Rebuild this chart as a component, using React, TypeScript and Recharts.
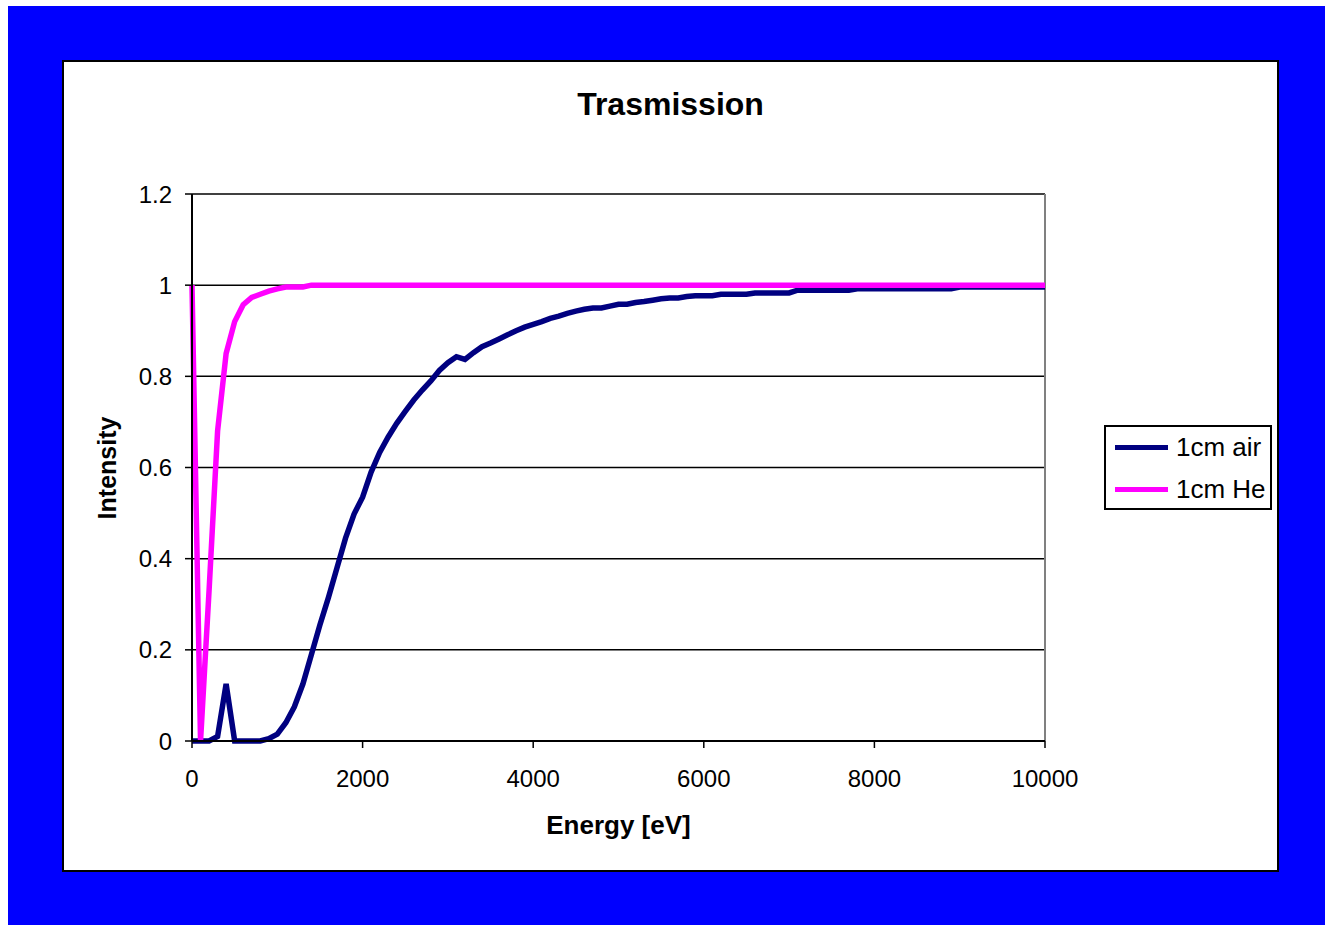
import React from "react"
import { LineChart, Line, XAxis, YAxis, CartesianGrid, ReferenceLine } from "recharts"

// photon energy in eV
const energy = [
    0, 100, 200, 300, 400, 500, 600, 700, 800, 900,
    1000, 1100, 1200, 1300, 1400, 1500, 1600, 1700, 1800, 1900,
    2000, 2100, 2200, 2300, 2400, 2500, 2600, 2700, 2800, 2900,
    3000, 3100, 3200, 3300, 3400, 3500, 3600, 3700, 3800, 3900,
    4000, 4100, 4200, 4300, 4400, 4500, 4600, 4700, 4800, 4900,
    5000, 5100, 5200, 5300, 5400, 5500, 5600, 5700, 5800, 5900,
    6000, 6100, 6200, 6300, 6400, 6500, 6600, 6700, 6800, 6900,
    7000, 7100, 7200, 7300, 7400, 7500, 7600, 7700, 7800, 7900,
    8000, 8100, 8200, 8300, 8400, 8500, 8600, 8700, 8800, 8900,
    9000, 9100, 9200, 9300, 9400, 9500, 9600, 9700, 9800, 9900, 10000,
]

const air1cm = [
    0, 0, 0, 0.01, 0.125, 0, 0, 0, 0, 0.005,
    0.015, 0.04, 0.075, 0.125, 0.19, 0.255, 0.315, 0.38, 0.445, 0.498,
    0.535, 0.59, 0.633, 0.667, 0.697, 0.723, 0.748, 0.77, 0.79, 0.813,
    0.83, 0.843, 0.837, 0.852, 0.865, 0.873, 0.882, 0.891, 0.9, 0.908,
    0.914, 0.92, 0.927, 0.932, 0.938, 0.943, 0.947, 0.95, 0.95, 0.954,
    0.958, 0.958, 0.962, 0.964, 0.967, 0.97, 0.972, 0.972, 0.975, 0.977,
    0.977, 0.977, 0.98, 0.98, 0.98, 0.98, 0.983, 0.983, 0.983, 0.983,
    0.983, 0.989, 0.989, 0.989, 0.989, 0.989, 0.989, 0.989, 0.992, 0.992,
    0.992, 0.992, 0.992, 0.992, 0.992, 0.992, 0.992, 0.992, 0.992, 0.992,
    0.996, 0.996, 0.996, 0.996, 0.996, 0.996, 0.996, 0.996, 0.996, 0.996, 0.996,
]

const he1cm = [
    1, 0, 0.33, 0.68, 0.85, 0.92, 0.957, 0.973, 0.98, 0.987,
    0.992, 0.996, 0.996, 0.996, 1, 1, 1, 1, 1, 1,
    1, 1, 1, 1, 1, 1, 1, 1, 1, 1,
    1, 1, 1, 1, 1, 1, 1, 1, 1, 1,
    1, 1, 1, 1, 1, 1, 1, 1, 1, 1,
    1, 1, 1, 1, 1, 1, 1, 1, 1, 1,
    1, 1, 1, 1, 1, 1, 1, 1, 1, 1,
    1, 1, 1, 1, 1, 1, 1, 1, 1, 1,
    1, 1, 1, 1, 1, 1, 1, 1, 1, 1,
    1, 1, 1, 1, 1, 1, 1, 1, 1, 1, 1,
]

const xTicks = [0, 2000, 4000, 6000, 8000, 10000]
const yTicks = [0, 0.2, 0.4, 0.6, 0.8, 1, 1.2]

const series = [
    { key: "air", name: "1cm air", color: "#000080" },
    { key: "he", name: "1cm He", color: "#FF00FF" },
]

const data = energy.map((e, i) => ({ energy: e, air: air1cm[i], he: he1cm[i] }))

const font = "'Liberation Sans', Arial, sans-serif"

export default function App() {
    return (
        <div style={{ position: "absolute", left: 0, top: 0, width: 1325, height: 925, background: "#fff", fontFamily: font }}>
            <div style={{ position: "absolute", left: 8, top: 6, width: 1317, height: 919, background: "#0000FF" }} />
            <div
                style={{
                    position: "absolute", left: 62, top: 60, width: 1217, height: 812,
                    background: "#fff", border: "2px solid #000", boxSizing: "border-box",
                }}
            />
            <div
                style={{
                    position: "absolute", left: 62, width: 1217, top: 85, textAlign: "center",
                    fontSize: 32, fontWeight: "bold", lineHeight: "38px",
                }}
            >
                Trasmission
            </div>

            <div style={{ position: "absolute", left: 62, top: 60 }}>
                <LineChart width={1217} height={812} data={data} margin={{ top: 134, right: 234, bottom: 91, left: 70 }}>
                    <CartesianGrid horizontal vertical={false} stroke="#000" strokeWidth={1.5} />
                    <ReferenceLine x={10000} stroke="#808080" strokeWidth={2} />
                    <XAxis
                        dataKey="energy"
                        type="number"
                        domain={[0, 10000]}
                        ticks={xTicks}
                        height={40}
                        tickSize={7}
                        tickMargin={22}
                        axisLine={{ stroke: "#000", strokeWidth: 2 }}
                        tickLine={{ stroke: "#000", strokeWidth: 1.5 }}
                        tick={{ fill: "#000", fontSize: 24, fontFamily: font }}
                    />
                    <YAxis
                        type="number"
                        domain={[0, 1.2]}
                        ticks={yTicks}
                        width={60}
                        tickSize={7}
                        tickMargin={13}
                        axisLine={{ stroke: "#000", strokeWidth: 2 }}
                        tickLine={{ stroke: "#000", strokeWidth: 1.5 }}
                        tick={{ fill: "#000", fontSize: 24, fontFamily: font }}
                    />
                    {series.map((s) => (
                        <Line
                            key={s.key}
                            dataKey={s.key}
                            name={s.name}
                            type="linear"
                            stroke={s.color}
                            strokeWidth={5.5}
                            dot={false}
                            isAnimationActive={false}
                        />
                    ))}
                </LineChart>
            </div>

            <div
                style={{
                    position: "absolute", left: 520, width: 197, top: 809, textAlign: "center",
                    fontSize: 26, fontWeight: "bold", lineHeight: "32px",
                }}
            >
                Energy [eV]
            </div>
            <div
                style={{
                    position: "absolute", left: 107, top: 468, transform: "translate(-50%, -50%) rotate(-90deg)",
                    fontSize: 25, fontWeight: "bold", lineHeight: "30px", whiteSpace: "nowrap",
                }}
            >
                Intensity
            </div>

            {/* legend */}
            <div
                style={{
                    position: "absolute", left: 1104, top: 425, width: 168, height: 85,
                    border: "2px solid #000", boxSizing: "border-box", background: "#fff",
                }}
            >
                {series.map((s, i) => (
                    <div key={s.key} style={{ position: "absolute", left: 9, top: 5 + i * 42, height: 30, display: "flex", alignItems: "center" }}>
                        <div style={{ width: 53, height: 5, background: s.color }} />
                        <span style={{ marginLeft: 8, fontSize: 26, lineHeight: "30px" }}>{s.name}</span>
                    </div>
                ))}
            </div>
        </div>
    )
}
